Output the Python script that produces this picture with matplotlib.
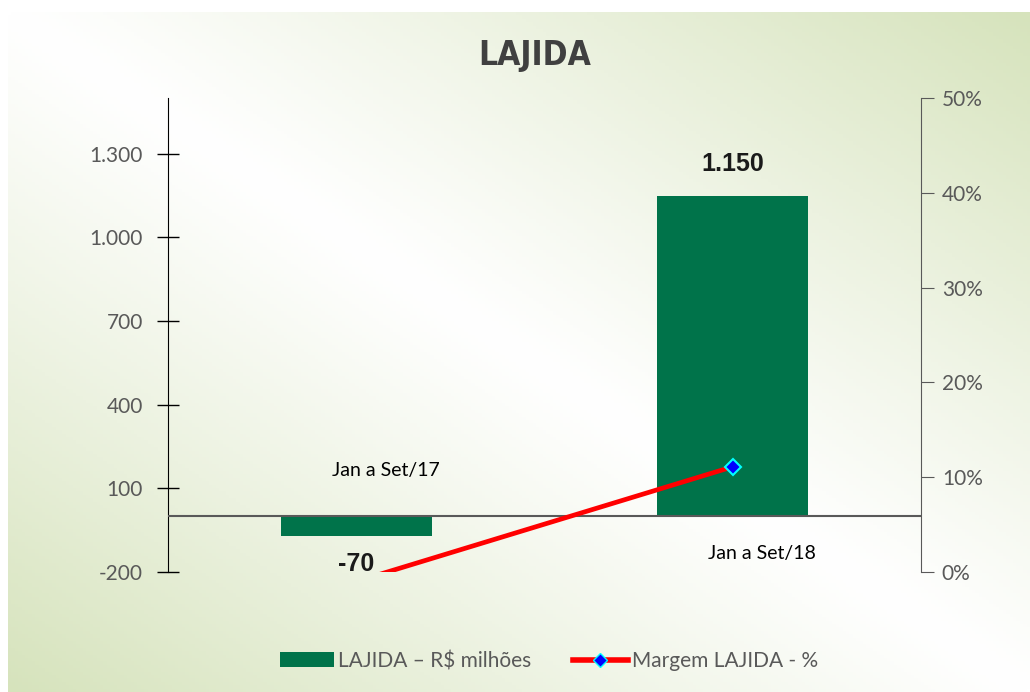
import numpy as np
import matplotlib
matplotlib.use("Agg")
import matplotlib.pyplot as plt
from matplotlib.patches import Patch
from matplotlib.lines import Line2D
from matplotlib.ticker import FuncFormatter

# Dados
periodos = ["Jan a Set/17", "Jan a Set/18"]
lajida = [-70, 1150]            # R$ milhões
margem = [-1.0, 11.1]           # %

cor_barra = "#00734a"
cinza = "#595959"

fig = plt.figure(figsize=(10.30, 6.92), dpi=100)

# fundo em degradê (branco na diagonal, verde nos cantos)
bg = fig.add_axes([8 / 1030, 0, 1 - 8 / 1030, 1 - 12 / 692], zorder=-10)
h, w = 200, 300
u = np.linspace(0, 1, w)[None, :]
v = np.linspace(0, 1, h)[:, None]
t = np.clip(np.abs(u - v), 0, 1) ** 1.1
branco = np.array([1.0, 1.0, 1.0])
verde = np.array([0xd6, 0xe3, 0xbc]) / 255
img = branco[None, None, :] * (1 - t[..., None]) + verde[None, None, :] * t[..., None]
bg.imshow(img, aspect="auto", extent=[0, 1, 0, 1], origin="upper")
bg.axis("off")

ax = fig.add_axes([168 / 1030, 1 - 572 / 692, (921 - 168) / 1030, (572 - 98) / 692])
ax.set_facecolor("none")
x = np.arange(len(periodos))
ax.bar(x, lajida, width=0.4, color=cor_barra, zorder=2)
ax.set_xlim(-0.5, 1.5)
ax.set_ylim(-200, 1500)
ax.set_yticks([-200, 100, 400, 700, 1000, 1300])
ax.yaxis.set_major_formatter(FuncFormatter(lambda val, pos: f"{val:,.0f}".replace(",", ".")))
ax.tick_params(axis="y", direction="inout", length=16, width=1, colors="black",
               labelcolor=cinza, labelsize=15, pad=10)
for lbl in ax.get_yticklabels():
    lbl.set_family(["Lato", "DejaVu Sans"])
ax.set_xticks([])
for s in ["top", "right", "bottom"]:
    ax.spines[s].set_visible(False)
ax.spines["left"].set_color("black")
ax.axhline(0, color=cinza, lw=1.5, zorder=3)

# rótulos dos valores
ax.annotate(f"{lajida[1]:,.0f}".replace(",", "."), (x[1], lajida[1]), xytext=(0, 14),
            textcoords="offset points", ha="center", va="bottom", fontsize=18,
            fontweight="bold", family="Liberation Sans", color="#1a1a1a")
ax.text(x[0], -172, f"{lajida[0]}", ha="center", va="center", fontsize=18,
        fontweight="bold", family="Liberation Sans", color="#1a1a1a")

# rótulos das categorias
ax.text(x[0] + 0.078, 165, periodos[0], ha="center", va="center", fontsize=14,
        family=["Lato", "DejaVu Sans"], color="black")
ax.text(x[1] + 0.078, -135, periodos[1], ha="center", va="center", fontsize=14,
        family=["Lato", "DejaVu Sans"], color="black")

# eixo secundário - margem
ax2 = ax.twinx()
ax2.plot(x, margem, color="red", lw=3.4, zorder=4, solid_capstyle="butt")
ax2.plot(x[1:], margem[1:], ls="none", marker="D", ms=8, mfc="blue", mec="cyan",
         mew=1.5, zorder=5)
ax2.set_ylim(0, 50)
ax2.set_yticks(range(0, 51, 10))
ax2.yaxis.set_major_formatter(FuncFormatter(lambda val, pos: f"{val:.0f}%"))
ax2.tick_params(axis="y", direction="out", length=9, colors=cinza, labelcolor=cinza,
                labelsize=15, pad=6)
for lbl in ax2.get_yticklabels():
    lbl.set_family(["Lato", "DejaVu Sans"])
for s in ["top", "left", "bottom"]:
    ax2.spines[s].set_visible(False)
ax2.spines["right"].set_color(cinza)

fig.text(535 / 1030, 1 - 55 / 692, "LAJIDA", ha="center", va="center", fontsize=24,
         fontweight="bold", family="DejaVu Sans", stretch="condensed", color="#404040")

handles = [Patch(facecolor=cor_barra, edgecolor="none"),
           Line2D([0], [0], color="red", lw=4, marker="D", ms=7, mfc="blue", mec="cyan")]
leg = fig.legend(handles, ["LAJIDA – R$ milhões", "Margem LAJIDA - %"], loc="center",
                 bbox_to_anchor=(549 / 1030, 1 - 661 / 692), ncol=2, frameon=False,
                 handlelength=2.6, handleheight=0.7, columnspacing=2.0, handletextpad=0.2,
                 prop={"family": ["Lato", "DejaVu Sans"], "size": 15})
for txt in leg.get_texts():
    txt.set_color(cinza)

fig.savefig("out.png", dpi=100)
